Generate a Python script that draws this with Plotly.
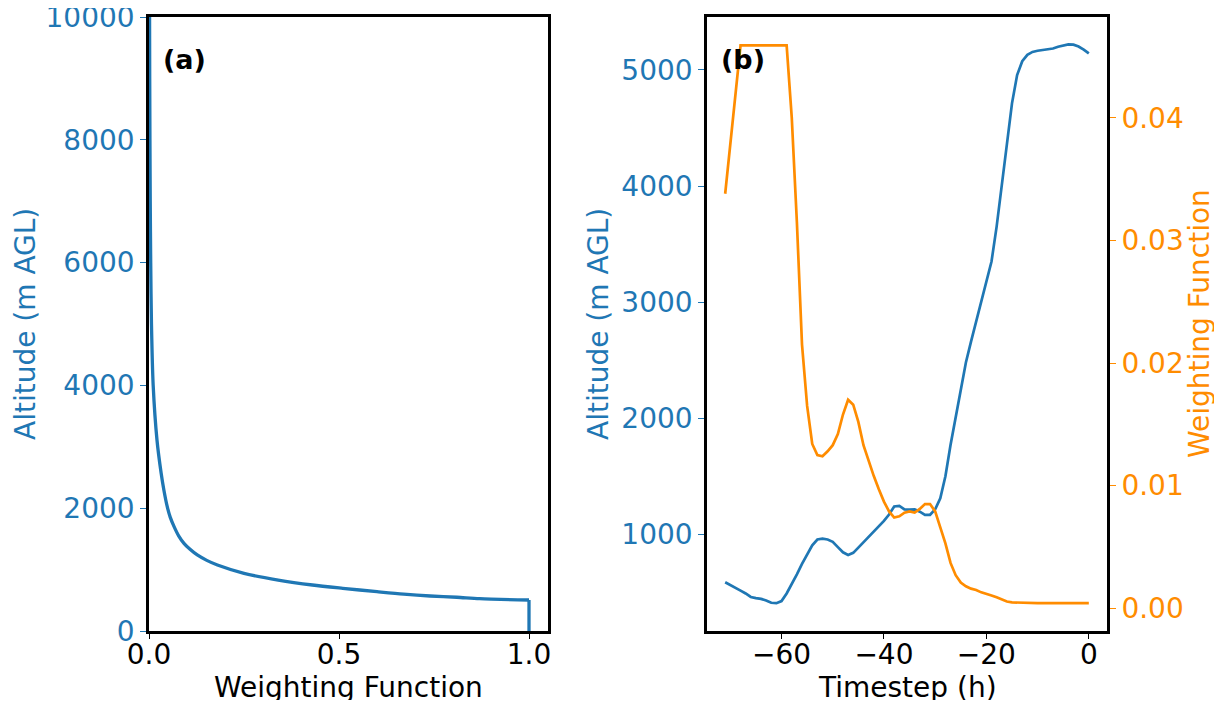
import plotly.graph_objects as go

# ---------------- data ----------------
# Panel (a): vertical weighting function profile
alt_a = [0, 505, 526, 550, 570, 600, 640, 695, 749, 830, 939, 1075, 1150, 1238, 1330, 1428,
         1550, 1699, 1850, 2024, 2300, 2568, 3111, 4000, 5000, 6000, 7000, 8000, 9000, 10000]
wf_a = [1.0, 1.0, 0.87, 0.81, 0.74, 0.67, 0.60, 0.51, 0.43, 0.34, 0.25, 0.18, 0.152, 0.127, 0.108, 0.092,
        0.078, 0.066, 0.056, 0.048, 0.039, 0.032, 0.021, 0.011, 0.0065, 0.0045, 0.0033, 0.0025, 0.0019, 0.0015]

# Panel (b): trajectory altitude and weighting vs timestep
hours = list(range(-71, 1))
alt_b = [587, 565, 540, 515, 490, 460, 450, 444, 430, 410,
         407, 425, 490, 570, 655, 745, 830, 905, 955, 962,
         955, 935, 890, 845, 822, 840, 885, 930, 975, 1020,
         1070, 1115, 1170, 1240, 1245, 1215, 1212, 1215, 1195, 1168,
         1168, 1215, 1310, 1500, 1770, 2010, 2250, 2480, 2660, 2830,
         3000, 3170, 3350, 3650, 3994, 4368, 4712, 4956, 5075, 5130,
         5155, 5165, 5170, 5175, 5185, 5200, 5212, 5220, 5218, 5202,
         5175, 5143]
wf_b = [0.0338, 0.0379, 0.0420, 0.0459, 0.0459, 0.0459, 0.0459, 0.0459, 0.0459, 0.0459,
        0.0459, 0.0459, 0.0459, 0.0400, 0.0315, 0.0215, 0.0165, 0.0134, 0.0125, 0.0124,
        0.0128, 0.0133, 0.0142, 0.0158, 0.0170, 0.0166, 0.0152, 0.0133, 0.0120, 0.0108,
        0.0097, 0.0087, 0.0079, 0.0074, 0.0075, 0.0078, 0.0079, 0.0078, 0.0081, 0.0085,
        0.0085, 0.0079, 0.0066, 0.0053, 0.0037, 0.0027, 0.0021, 0.0018, 0.0016, 0.0015,
        0.0013, 0.0012, 0.00105, 0.0009, 0.0007, 0.00055, 0.00048, 0.00046, 0.00046, 0.00045,
        0.00044, 0.00043, 0.00043, 0.00043, 0.00043, 0.00043, 0.00043, 0.00043, 0.00043, 0.00043,
        0.00043, 0.00043]

xticks_a = [0.0, 0.5, 1.0]
yticks_a = [0, 2000, 4000, 6000, 8000, 10000]
xticks_b = [-60, -40, -20, 0]
yticks_b = [1000, 2000, 3000, 4000, 5000]
wticks_b = [0.0, 0.01, 0.02, 0.03, 0.04]

BLUE = "#1f77b4"
ORANGE = "#ff8c00"
FONT = "DejaVu Sans"
FS = 28

fig = go.Figure()
# vertical part of the profile (below the cap) and the decaying part
fig.add_trace(go.Scatter(x=wf_a[:2], y=alt_a[:2], mode="lines", line=dict(color=BLUE, width=3.3),
                         xaxis="x", yaxis="y", showlegend=False))
fig.add_trace(go.Scatter(x=wf_a[1:], y=alt_a[1:], mode="lines",
                         line=dict(color=BLUE, width=3.3, shape="spline", smoothing=0.8),
                         xaxis="x", yaxis="y", showlegend=False))
fig.add_trace(go.Scatter(x=hours, y=alt_b, mode="lines", line=dict(color=BLUE, width=2.7),
                         xaxis="x2", yaxis="y2", showlegend=False))
fig.add_trace(go.Scatter(x=hours, y=wf_b, mode="lines", line=dict(color=ORANGE, width=2.7),
                         xaxis="x2", yaxis="y3", showlegend=False))

# page is offset by the 8px body margin -> figure is 1206x692
OFF = 8
W, H = 1222 - 2 * OFF, 708 - 2 * OFF
L1, R1 = 149 - OFF, 548 - OFF
L2, R2 = 707 - OFF, 1107 - OFF
T, B = 17 - OFF, 631 - OFF
dx1 = [L1 / W, R1 / W]
dx2 = [L2 / W, R2 / W]
dy = [(H - B) / H, (H - T) / H]

axis_common = dict(showline=True, linecolor="black", linewidth=2.6, showgrid=False,
                   zeroline=False, ticks="outside", tickwidth=1.4,
                   automargin=False, ticklabeloverflow="allow")

fig.update_layout(
    width=W, height=H,
    margin=dict(l=0, r=0, t=0, b=0),
    paper_bgcolor="white", plot_bgcolor="white",
    font=dict(family=FONT, size=FS, color="black"),
    xaxis=dict(domain=dx1, anchor="y", range=[0, 1.05], tickvals=xticks_a,
               tickformat=".1f", mirror=True, tickcolor="black", ticklen=5,
               ticklabelstandoff=-8, **axis_common),
    yaxis=dict(domain=dy, anchor="x", range=[0, 10000], tickvals=yticks_a, tickformat="d",
               mirror=True, tickcolor=BLUE, tickfont=dict(color=BLUE), ticklen=6, **axis_common),
    xaxis2=dict(domain=dx2, anchor="y2", range=[-74.55, 3.55], tickvals=xticks_b,
                mirror=True, tickcolor="black", ticklen=5, ticklabelstandoff=-8, **axis_common),
    yaxis2=dict(domain=dy, anchor="x2", range=[167, 5456], tickvals=yticks_b, tickformat="d",
                mirror=True, tickcolor=BLUE, tickfont=dict(color=BLUE), ticklen=6, **axis_common),
    yaxis3=dict(domain=dy, anchor="x2", overlaying="y2", side="right",
                range=[-0.00185, 0.04821], tickvals=wticks_b, tickformat=".2f",
                tickcolor=ORANGE, tickfont=dict(color=ORANGE), ticklen=6, **axis_common),
)

ann = [
    dict(text="Altitude (m AGL)", x=25, y=324, textangle=-90, color=BLUE),
    dict(text="Weighting Function", x=348.5, y=687, textangle=0, color="black"),
    dict(text="Altitude (m AGL)", x=598, y=324, textangle=-90, color=BLUE),
    dict(text="Timestep (h)", x=907, y=687, textangle=0, color="black"),
    dict(text="Weighting Function", x=1199, y=324, textangle=-90, color=ORANGE),
]
for a in ann:
    fig.add_annotation(xref="paper", yref="paper", xanchor="center", yanchor="middle",
                       x=(a["x"] - OFF) / W, y=(H - (a["y"] - OFF)) / H,
                       text=a["text"], textangle=a["textangle"], showarrow=False,
                       font=dict(color=a["color"], size=FS))

for xr, yr, lab in [("x domain", "y domain", "(a)"), ("x2 domain", "y2 domain", "(b)")]:
    fig.add_annotation(text=f"<b>{lab}</b>", xref=xr, yref=yr, x=0.03, y=0.93,
                       xanchor="left", yanchor="middle", showarrow=False,
                       font=dict(color="black", size=FS - 1))

fig.write_html("out.html", config=dict(displayModeBar=False))
